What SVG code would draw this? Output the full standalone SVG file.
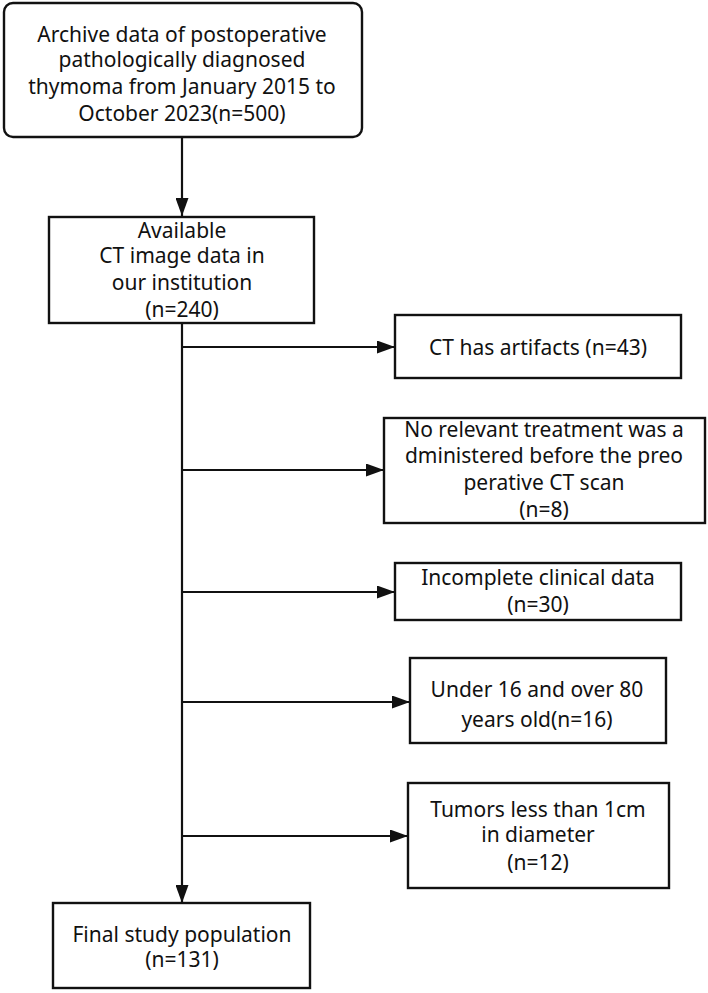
<svg xmlns="http://www.w3.org/2000/svg" width="708" height="993" viewBox="0 0 708 993">
<defs>
<style>
.box{fill:#fff;stroke:#111;stroke-width:2.4}
.t{font-family:"Noto Sans","Open Sans",sans-serif;font-size:21px;fill:#111;text-anchor:middle}
.ln{stroke:#111;stroke-width:2.2;fill:none}
</style>
<marker id="ah" viewBox="0 0 18 13" refX="18" refY="6.5" markerWidth="18" markerHeight="13" markerUnits="userSpaceOnUse" orient="auto">
<path d="M0,0 L18,6.5 L0,13 Z" fill="#111"/>
</marker>
</defs>
<rect width="708" height="993" fill="#fff"/>
<g id="connectors">
<line class="ln" x1="182" y1="137" x2="182" y2="216" marker-end="url(#ah)"/>
<line class="ln" x1="182" y1="323" x2="182" y2="903" marker-end="url(#ah)"/>
<line class="ln" x1="182" y1="347" x2="395" y2="347" marker-end="url(#ah)"/>
<line class="ln" x1="182" y1="470" x2="384" y2="470" marker-end="url(#ah)"/>
<line class="ln" x1="182" y1="592" x2="395" y2="592" marker-end="url(#ah)"/>
<line class="ln" x1="182" y1="702" x2="410" y2="702" marker-end="url(#ah)"/>
<line class="ln" x1="182" y1="836" x2="408" y2="836" marker-end="url(#ah)"/>
</g>
<g id="n1">
<rect class="box" x="4" y="3" width="358" height="134" rx="9"/>
<text class="t" x="182" y="42">Archive data of postoperative</text>
<text class="t" x="182" y="67">pathologically diagnosed</text>
<text class="t" x="182" y="94">thymoma from January 2015 to</text>
<text class="t" x="182" y="121">October 2023(n=500)</text>
</g>
<g id="n2">
<rect class="box" x="49" y="217" width="265" height="106"/>
<text class="t" x="182" y="238">Available</text>
<text class="t" x="182" y="263">CT image data in</text>
<text class="t" x="182" y="290">our institution</text>
<text class="t" x="182" y="317">(n=240)</text>
</g>
<g id="n3">
<rect class="box" x="395" y="315" width="286" height="63"/>
<text class="t" x="538" y="355">CT has artifacts (n=43)</text>
</g>
<g id="n4">
<rect class="box" x="384" y="418" width="321" height="105"/>
<text class="t" x="544" y="437">No relevant treatment was a</text>
<text class="t" x="544" y="463">dministered before the preo</text>
<text class="t" x="544" y="490">perative CT scan</text>
<text class="t" x="544" y="517">(n=8)</text>
</g>
<g id="n5">
<rect class="box" x="395" y="563" width="286" height="57"/>
<text class="t" x="538" y="585">Incomplete clinical data</text>
<text class="t" x="538" y="612">(n=30)</text>
</g>
<g id="n6">
<rect class="box" x="410" y="658" width="256" height="85"/>
<text class="t" x="537" y="697">Under 16 and over 80</text>
<text class="t" x="537" y="727">years old(n=16)</text>
</g>
<g id="n7">
<rect class="box" x="408" y="783" width="261" height="105"/>
<text class="t" x="538" y="817">Tumors less than 1cm</text>
<text class="t" x="538" y="842">in diameter</text>
<text class="t" x="538" y="870">(n=12)</text>
</g>
<g id="n8">
<rect class="box" x="53" y="903" width="257" height="85"/>
<text class="t" x="182" y="942">Final study population</text>
<text class="t" x="182" y="967">(n=131)</text>
</g>
</svg>
